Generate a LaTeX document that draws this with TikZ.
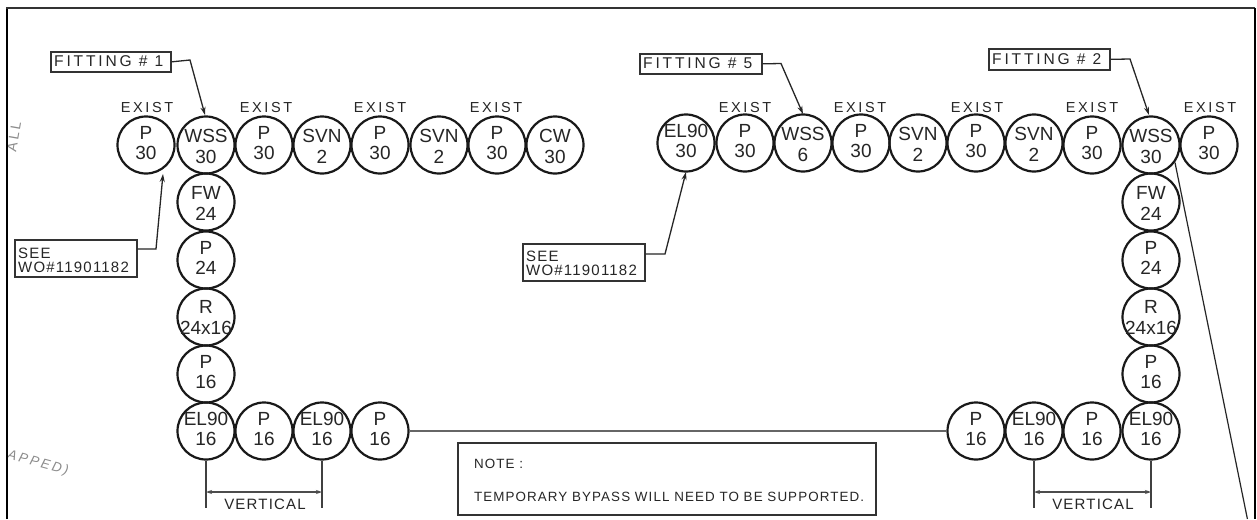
\documentclass[tikz,border=0pt]{standalone}
\usepackage{fontspec}
\setmainfont{Liberation Sans}
\newfontfamily\wide[LetterSpace=18]{Liberation Sans}
\newfontfamily\midw[LetterSpace=8]{Liberation Sans}
\usetikzlibrary{arrows.meta}
\definecolor{ink}{gray}{0.15}
\tikzset{
  fitcircle/.style={circle,draw=black!90,line width=2.2pt,minimum size=57pt,inner sep=0pt},
  fittext/.style={align=center,inner sep=0pt,text=ink,font=\fontsize{19}{19.5}\selectfont},
  fittextw/.style={align=center,inner sep=0pt,text=ink,font=\fontsize{19}{21}\selectfont},
  exist/.style={inner sep=0pt,text=ink,font=\wide\fontsize{14.5}{16}\selectfont},
  tagbox/.style={draw=black!80,line width=1.7pt,inner sep=0pt,anchor=north west},
  tagtext/.style={inner sep=0pt,text=ink,anchor=west,font=\wide\fontsize{15.6}{17}\selectfont},
  seetext/.style={inner sep=0pt,text=ink,anchor=west,align=left,font=\midw\fontsize{15}{14}\selectfont},
  notetext/.style={inner sep=0pt,text=ink,anchor=west,font=\midw\fontsize{13.4}{15}\selectfont},
  vtext/.style={inner sep=0pt,text=ink,font=\midw\fontsize{15}{17}\selectfont},
  leader/.style={draw=black!85,line width=1.3pt,-{Stealth[length=8pt,width=5pt]}},
  dimline/.style={draw=black!70,line width=1.5pt,{Stealth[length=6pt,width=4pt]}-{Stealth[length=6pt,width=4pt]}},
  extline/.style={draw=black!75,line width=1.6pt},
  faint/.style={inner sep=0pt,text=black!45,font=\wide\fontsize{14}{16}\selectfont},
}
\newcommand\fit[5]{\node[fitcircle] (#1) at (#2,#3) {};\node[fittext] (#1t) at (#2,{#3-2}) {#4\\#5};}
\newcommand\fitw[5]{\node[fitcircle] (#1) at (#2,#3) {};\node[fittextw] (#1t) at (#2,{#3+1}) {#4\\#5};}
\newcommand\ex[2]{\node[exist] (e#1) at (#1,#2) {EXIST};}
\begin{document}
\begin{tikzpicture}[x=1pt,y=-1pt]
\useasboundingbox (0,0) rectangle (1257,519);
\fill[white] (0,0) rectangle (1257,519);
% faint remnants
\node[faint,rotate=80] (fa) at (14,137) {ALL};
\node[faint,rotate=-15,font=\wide\itshape\fontsize{13.5}{15}\selectfont] (fb) at (38,463) {APPED)};
% frame
\draw[black,line width=2.8pt] (7,519) -- (7,8);
\draw[black!80,line width=2pt] (6,8) -- (1255,8);
\draw[black,line width=2.8pt] (1255,8) -- (1255,519);
% left top row
\fit{a1}{146}{145}{P}{30}
\fitw{a2}{206}{145}{WSS}{30}
\fit{a3}{264}{145}{P}{30}
\fitw{a4}{322}{145}{SVN}{2}
\fit{a5}{380}{145}{P}{30}
\fitw{a6}{439}{145}{SVN}{2}
\fit{a7}{497}{145}{P}{30}
\fitw{a8}{555}{145}{CW}{30}
% left column
\fitw{b1}{206}{202}{FW}{24}
\fit{b2}{206}{260}{P}{24}
\fitw{b3}{206}{317}{R}{24x16}
\fit{b4}{206}{374}{P}{16}
\fit{b5}{206}{431}{EL90}{16}
\fit{b6}{264}{431}{P}{16}
\fit{b7}{322}{431}{EL90}{16}
\fit{b8}{380}{431}{P}{16}
% right top row
\fit{c1}{686}{143}{EL90}{30}
\fit{c2}{745}{143}{P}{30}
\fitw{c3}{803}{143}{WSS}{6}
\fit{c4}{861}{143}{P}{30}
\fitw{c5}{918}{143}{SVN}{2}
\fit{c6}{976}{143}{P}{30}
\fitw{c7}{1034}{143}{SVN}{2}
\fit{c8}{1092}{145}{P}{30}
\fitw{c9}{1151}{145}{WSS}{30}
\fit{c10}{1209}{145}{P}{30}
% right column
\fitw{d1}{1151}{202}{FW}{24}
\fit{d2}{1151}{260}{P}{24}
\fitw{d3}{1151}{317}{R}{24x16}
\fit{d4}{1151}{374}{P}{16}
\fit{d5}{1151}{431}{EL90}{16}
\fit{d6}{1092}{431}{P}{16}
\fit{d7}{1034}{431}{EL90}{16}
\fit{d8}{976}{431}{P}{16}
% long run
\draw[draw=black!60,line width=2.2pt] (b8) -- (d8);
% EXIST
\ex{147}{108}\ex{266}{108}\ex{380}{108}\ex{496}{108}
\ex{745}{108}\ex{860}{108}\ex{977}{108}\ex{1092}{108}\ex{1210}{108}
% tags
\node[tagbox,minimum width=120pt,minimum height=20pt] (f1) at (50,51) {};
\node[tagtext] (f1t) at (54,61) {FITTING \# 1};
\node[tagbox,minimum width=122pt,minimum height=20pt] (f5) at (639,53) {};
\node[tagtext] (f5t) at (643,63.5) {FITTING \# 5};
\node[tagbox,minimum width=121pt,minimum height=21pt] (f2) at (988,48) {};
\node[tagtext] (f2t) at (992,59) {FITTING \# 2};
\node[tagbox,minimum width=122pt,minimum height=37pt] (s1) at (14,239) {};
\node[seetext] (s1t) at (18,260) {SEE\\WO\#11901182};
\node[tagbox,minimum width=122pt,minimum height=37pt] (s2) at (522,243) {};
\node[seetext] (s2t) at (526,263) {SEE\\WO\#11901182};
% leaders
\coordinate (l1) at (190,60); \coordinate (t1) at (205,115);
\coordinate (l5) at (781,63.5); \coordinate (t5) at (803,114);
\coordinate (l2) at (1130,59); \coordinate (t2) at (1149,115);
\coordinate (ls1) at (156,249); \coordinate (ts1) at (163,174);
\coordinate (ls2) at (665,254); \coordinate (ts2) at (686,172);
\draw[leader] (f1.east) -- (l1) -- (t1);
\draw[leader] (f5.east) -- (l5) -- (t5);
\draw[leader] (f2.east) -- (l2) -- (t2);
\draw[leader] (s1.east|-ls1) -- (ls1) -- (ts1);
\draw[leader] (s2.east|-ls2) -- (ls2) -- (ts2);
% long diagonal
\coordinate (diagend) at (1247.4,519);
\draw[draw=black!85,line width=1.2pt] (c9.-36) -- (diagend);
% vertical dimensions
\coordinate (v1) at (206,508); \coordinate (v2) at (322,508);
\coordinate (v3) at (1034,508); \coordinate (v4) at (1151,508);
\draw[extline] (b5.south) -- (v1);
\draw[extline] (b7.south) -- (v2);
\draw[extline] (d7.south) -- (v3);
\draw[extline] (d5.south) -- (v4);
\coordinate (g1) at (206,492); \coordinate (g2) at (322,492);
\coordinate (g3) at (1034,492); \coordinate (g4) at (1151,492);
\draw[dimline] (g1) -- (g2);
\draw[dimline] (g3) -- (g4);
\node[vtext] (vt1) at (265,504) {VERTICAL};
\node[vtext] (vt2) at (1093,504) {VERTICAL};
% note
\node[tagbox,minimum width=418pt,minimum height=72pt] (note) at (457,442) {};
\node[notetext] (n1) at (474,464) {NOTE :};
\node[notetext] (n2) at (474,496.5) {TEMPORARY BYPASS WILL NEED TO BE SUPPORTED.};
\end{tikzpicture}
\end{document}
